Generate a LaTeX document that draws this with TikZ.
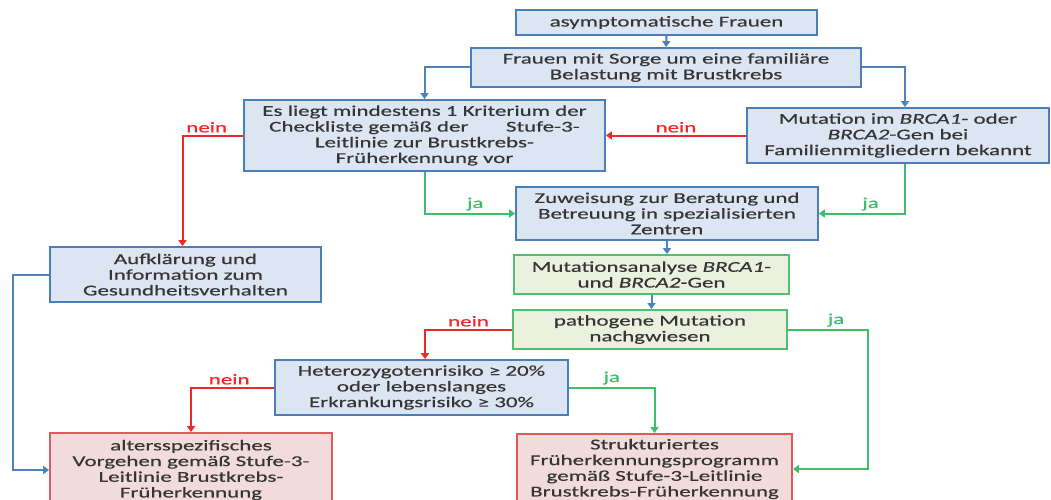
\documentclass[tikz,border=0pt]{standalone}
\usepackage{fontspec}
\setmainfont{Carlito}[FakeStretch=1.53,FakeBold=0.5]
\usetikzlibrary{arrows.meta}
\definecolor{bborder}{HTML}{4A7EBB}
\definecolor{bfill}{HTML}{DCE6F2}
\definecolor{gborder}{HTML}{50C070}
\definecolor{gfill}{HTML}{EBF1DE}
\definecolor{rborder}{HTML}{DF5B5B}
\definecolor{rfill}{HTML}{F2DCDB}
\definecolor{cred}{HTML}{F02828}
\definecolor{cgreen}{HTML}{3DBE6A}
\definecolor{cblue}{HTML}{4F81BD}
\definecolor{txt}{HTML}{353535}
\begin{document}
\begin{tikzpicture}[x=1pt,y=-1pt,
  font=\fontsize{15}{15.7}\selectfont,
  box/.style={draw, line width=1.8pt, inner sep=0pt, align=center, text=txt},
  bluebox/.style={box, draw=bborder, fill=bfill},
  greenbox/.style={box, draw=gborder, fill=gfill},
  redbox/.style={box, draw=rborder, fill=rfill},
  conn/.style={line width=2pt, -{Triangle[length=6pt,width=8pt]}},
  bconn/.style={conn, draw=cblue},
  rconn/.style={conn, draw=cred},
  gconn/.style={conn, draw=cgreen},
  rlab/.style={text=cred, inner sep=2pt},
  glab/.style={text=cgreen, inner sep=2pt}
]
\useasboundingbox (0,0) rectangle (1051,500);
\fill[white] (0,0) rectangle (1051,500);

\node[bluebox, minimum width=301pt, minimum height=25pt] (asym) at (666.5,22.5) {asymptomatische Frauen};
\node[bluebox, minimum width=390pt, minimum height=39pt] (frauen) at (666,67.5) {Frauen mit Sorge um eine familiäre\\Belastung mit Brustkrebs};
\node[bluebox, minimum width=361pt, minimum height=71pt] (es) at (424.5,135.5) {Es liegt mindestens 1 Kriterium der\\Checkliste gemäß der\hspace{2.5em}Stufe-3-\\Leitlinie zur Brustkrebs-\\Früherkennung vor};
\node[bluebox, minimum width=302pt, minimum height=55pt] (mut) at (898,135.5) {Mutation im \textit{BRCA1}- oder\\\textit{BRCA2}-Gen bei\\Familienmitgliedern bekannt};
\node[bluebox, minimum width=302pt, minimum height=53pt] (zuw) at (667,213.5) {Zuweisung zur Beratung und\\Betreuung in spezialisierten\\Zentren};
\node[greenbox, minimum width=275pt, minimum height=39pt] (ana) at (651.5,274.5) {Mutationsanalyse \textit{BRCA1}-\\und \textit{BRCA2}-Gen};
\node[greenbox, minimum width=274pt, minimum height=39pt] (path) at (650,329.5) {pathogene Mutation\\nachgwiesen};
\node[bluebox, minimum width=293pt, minimum height=55pt] (het) at (421.5,387.5) {Heterozygotenrisiko ≥ 20\%\\oder lebenslanges\\Erkrankungsrisiko ≥ 30\%};
\node[redbox, minimum width=275pt, minimum height=70pt] (str) at (654.5,469) {Strukturiertes\\Früherkennungsprogramm\\gemäß Stufe-3-Leitlinie\\Brustkrebs-Früherkennung};
\node[bluebox, minimum width=271pt, minimum height=55pt] (auf) at (185.5,274.5) {Aufklärung und\\Information zum\\Gesundheitsverhalten};
\node[redbox, minimum width=282pt, minimum height=74pt] (alt) at (191,470) {altersspezifisches\\Vorgehen gemäß Stufe-3-\\Leitlinie Brustkrebs-\\Früherkennung};

\coordinate (pj) at (868,329.5);
\coordinate (aj) at (13,274.5);

\draw[bconn] (asym.south) -- (frauen.north);
\draw[bconn] (frauen.west) -| (es.north);
\draw[bconn] (frauen.east) -| ([xshift=7pt]mut.north);
\draw[rconn] (mut.west) -- node[rlab, above]{nein} (es.east);
\draw[rconn] (es.west) -| node[rlab, above, pos=0.3]{nein} ([xshift=-3pt]auf.north);
\draw[gconn] (es.south) |- node[glab, above, pos=0.78]{ja} (zuw.west);
\draw[gconn] ([xshift=7pt]mut.south) |- node[glab, above, pos=0.7]{ja} (zuw.east);
\draw[bconn] (zuw.south) -- (zuw.south |- ana.north);
\draw[bconn] (ana.south) -- (ana.south |- path.north);
\draw[rconn] (path.west) -| node[rlab, above, pos=0.25]{nein} ([xshift=3.5pt]het.north);
\draw[gconn] (path.east) -- node[glab, above, pos=0.6]{ja} (pj) |- (str.east);
\draw[rconn] (het.west) -| node[rlab, above, pos=0.27]{nein} (alt.north);
\draw[gconn] (het.east) -| node[glab, above, pos=0.25]{ja} (str.north);
\draw[bconn] (auf.west) -- (aj) |- (alt.west);
\end{tikzpicture}
\end{document}
